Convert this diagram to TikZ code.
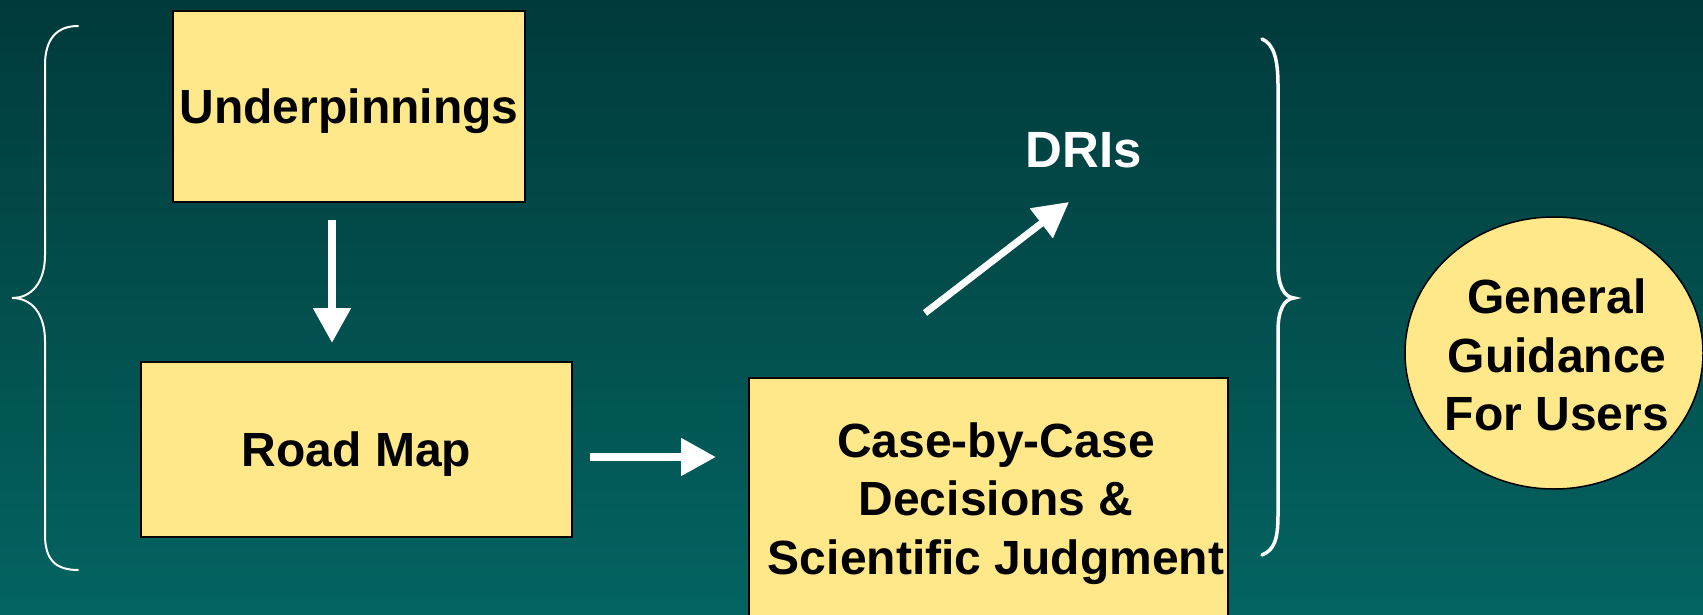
\documentclass[tikz,border=0pt]{standalone}
\usepackage{fontspec}
\setmainfont{Liberation Sans}
\usetikzlibrary{arrows.meta,shapes.geometric}
\definecolor{bgtop}{RGB}{1,58,59}
\definecolor{bgbot}{RGB}{3,100,97}
\definecolor{boxfill}{RGB}{255,232,138}
\tikzset{
  yellowbox/.style={draw=black, line width=2pt, fill=boxfill, inner sep=0pt, font=\bfseries\fontsize{48}{58}\selectfont, align=center},
  whitearrow/.style={draw=white, line width=8pt, -{Triangle[width=36pt,length=35pt]}, white},
  bracepath/.style={draw=white, line cap=round},
  bigtext/.style={font=\bfseries\fontsize{48}{58.5}\selectfont, align=center, inner sep=0pt}
}
\begin{document}
\begin{tikzpicture}[x=1pt,y=-1pt]
\useasboundingbox (0,0) rectangle (1703,615);
\clip (0,0) rectangle (1703,615);
\shade[top color=bgtop, bottom color=bgbot] (0,0) rectangle (1703,615);
% boxes
\node[yellowbox, minimum width=352pt, minimum height=191pt, text depth=0pt] (under) at (349,106.5) {Underpinnings};
\node[yellowbox, minimum width=431pt, minimum height=175pt, text depth=0pt] (road) at (356.5,449.5) {Road Map};
\node[yellowbox, minimum width=479pt, minimum height=250pt] (case) at (988.5,503) {};
\node[bigtext] (casetext) at (996,503.5) {Case-by-Case\\Decisions \&\\Scientific Judgment};
\node[font=\bfseries\fontsize{51}{60}\selectfont, text=white, inner sep=0pt] (dri) at (1084,150) {DRIs};
\node[ellipse, draw=black, line width=1.5pt, fill=boxfill, minimum width=298pt, minimum height=272pt, inner sep=0pt] (gen) at (1554,353) {};
\node[bigtext] (gentext) at (1557,355) {General\\Guidance\\For Users};
% arrows
\draw[whitearrow, shorten <=17pt, shorten >=18pt] (under.south -| 332,0) -- (road.north -| 332,0);
\draw[whitearrow, shorten <=17pt, shorten >=32pt] (road.east |- 0,457) -- (case.west |- 0,457);
\coordinate (ds) at (925,313);
\coordinate (de) at (1069,202);
\draw[whitearrow, line width=7pt] (ds) -- (de);
% braces
\draw[bracepath, line width=2pt] (78,26) .. controls (56,26) and (45,40) .. (45,65) -- (45,255) .. controls (45,282) and (32,298) .. (12,298) .. controls (32,298) and (45,314) .. (45,341) -- (45,535) .. controls (45,560) and (56,570) .. (78,570);
\draw[bracepath, line width=3.5pt] (1262,39) .. controls (1274,44) and (1278,60) .. (1278,85) -- (1278,265) .. controls (1278,286) and (1284,297) .. (1294,298) .. controls (1284,299) and (1278,310) .. (1278,331) -- (1278,515) .. controls (1278,540) and (1274,550) .. (1262,555);
\end{tikzpicture}
\end{document}
